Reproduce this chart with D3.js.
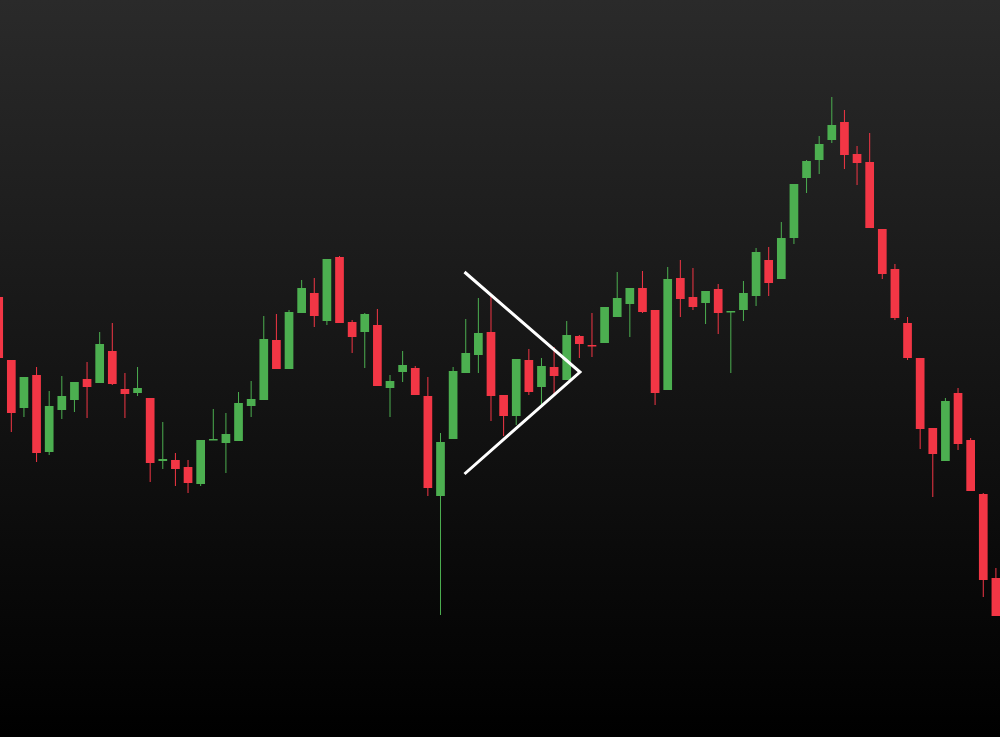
<!DOCTYPE html>
<html>
<head>
<meta charset="utf-8">
<script src="https://cdn.jsdelivr.net/npm/d3@7"></script>
<style>
  html, body { margin: 0; padding: 0; background: #000; }
  svg { display: block; }
</style>
</head>
<body>
<svg id="chart" width="1000" height="737"></svg>
<script>
// candle values (price units)
let opens = [44.0, 37.7, 32.9, 36.2, 28.5, 32.7, 33.7, 35.8, 35.4, 38.6,
  34.8, 34.4, 33.9, 27.6, 27.7, 27.0, 25.3, 29.7, 29.4, 29.6,
  33.1, 33.7, 39.7, 36.8, 42.4, 44.4, 41.6, 48.0, 41.5, 40.5,
  41.2, 34.9, 36.5, 36.9, 34.1, 24.1, 29.8, 36.4, 38.2, 40.5,
  34.2, 32.1, 37.7, 35.0, 37.0, 35.7, 40.1, 39.2, 39.4, 42.0,
  43.3, 44.9, 42.7, 34.7, 45.9, 44.0, 43.4, 44.8, 42.5, 42.7,
  44.1, 47.7, 45.8, 49.9, 55.9, 57.7, 59.7, 61.5, 58.3, 57.5,
  50.8, 46.8, 41.4, 37.9, 30.9, 27.6, 34.4, 29.7, 24.3, 15.9];
let highs = [44.1, 37.7, 36.0, 37.0, 34.6, 36.1, 35.5, 37.5, 40.5, 41.4,
  36.4, 37.0, 33.9, 31.5, 28.4, 27.7, 29.7, 32.8, 32.4, 34.5,
  35.6, 42.1, 42.3, 42.7, 45.7, 45.9, 47.8, 48.1, 41.7, 42.4,
  42.8, 36.2, 38.6, 37.1, 36.0, 30.4, 37.0, 41.8, 43.9, 44.3,
  34.2, 37.8, 38.8, 37.9, 39.0, 41.6, 40.2, 42.4, 43.0, 46.5,
  44.9, 46.6, 42.7, 47.0, 47.7, 46.9, 44.6, 45.3, 42.6, 45.6,
  48.9, 49.0, 51.5, 55.3, 57.7, 60.1, 64.0, 62.7, 59.1, 60.4,
  50.8, 47.3, 42.0, 37.9, 30.9, 33.9, 34.9, 29.9, 24.4, 16.9];
let lows = [37.7, 30.5, 32.0, 27.5, 28.2, 31.8, 32.5, 31.9, 35.4, 35.2,
  31.9, 34.1, 25.5, 26.8, 25.1, 24.4, 25.1, 29.7, 26.4, 29.6,
  32.0, 33.7, 36.8, 36.8, 42.4, 41.0, 41.2, 41.4, 38.4, 36.9,
  35.1, 32.0, 35.5, 34.2, 24.1, 12.2, 29.8, 36.4, 36.4, 31.6,
  30.1, 31.2, 34.2, 33.0, 34.1, 35.7, 37.9, 38.0, 39.4, 42.0,
  40.0, 42.4, 33.2, 34.7, 42.0, 42.7, 41.3, 40.3, 36.4, 41.6,
  43.1, 44.1, 45.8, 49.3, 54.4, 56.3, 59.4, 56.8, 55.2, 50.9,
  45.8, 41.7, 37.7, 28.8, 24.0, 27.6, 28.7, 24.6, 14.0, 12.1];
let closes = [37.9, 32.4, 36.0, 28.4, 33.1, 34.1, 35.5, 35.0, 39.3, 35.3,
  34.3, 34.9, 27.4, 27.8, 26.8, 25.4, 29.7, 29.8, 30.3, 33.4,
  33.8, 39.8, 36.8, 42.5, 44.9, 42.1, 47.8, 41.4, 40.0, 42.3,
  35.1, 35.6, 37.2, 34.2, 24.9, 29.5, 36.6, 38.4, 40.4, 34.1,
  32.1, 37.8, 34.5, 37.1, 36.1, 40.2, 39.3, 39.1, 43.0, 43.9,
  44.9, 42.5, 34.4, 45.8, 43.8, 43.0, 44.6, 42.4, 42.6, 44.4,
  48.5, 45.4, 49.9, 55.3, 57.6, 59.3, 61.2, 58.2, 57.4, 50.9,
  46.3, 41.9, 37.9, 30.8, 28.3, 33.6, 29.3, 24.6, 15.7, 12.1];

// triangle pattern drawn over the candles (candle index, price)
let patternIdx = [36.9, 46.05, 36.9];
let patternPrice = [46.5, 36.5, 26.3];

let width = 1000;
let height = 737;
let upColor = '#4caf50';
let downColor = '#f23645';

let svg = d3.select('#chart');

// background gradient
let defs = svg.append('defs');
let grad = defs.append('linearGradient')
  .attr('id', 'bg')
  .attr('x1', 0).attr('y1', 0)
  .attr('x2', 0).attr('y2', 1);
grad.append('stop').attr('offset', '0%').attr('stop-color', '#2a2a2a');
grad.append('stop').attr('offset', '100%').attr('stop-color', '#000000');

svg.append('rect')
  .attr('width', width)
  .attr('height', height)
  .attr('fill', 'url(#bg)');

let candles = opens.map((o, i) => ({
  i: i, open: o, high: highs[i], low: lows[i], close: closes[i]
}));

let x = d3.scaleLinear().domain([0, candles.length - 1]).range([-1.3, 995.9]);
let y = d3.scaleLinear().domain([0, 73.7]).range([height, 0]);
let bodyW = 8.7;

let g = svg.append('g');

// wicks
g.selectAll('line.wick')
  .data(candles)
  .enter()
  .append('line')
  .attr('class', 'wick')
  .attr('x1', (d) => x(d.i))
  .attr('x2', (d) => x(d.i))
  .attr('y1', (d) => y(d.high))
  .attr('y2', (d) => y(d.low))
  .attr('stroke', (d) => (d.close >= d.open ? upColor : downColor))
  .attr('stroke-width', 1);

// bodies
g.selectAll('rect.body')
  .data(candles)
  .enter()
  .append('rect')
  .attr('class', 'body')
  .attr('x', (d) => x(d.i) - bodyW / 2)
  .attr('width', bodyW)
  .attr('y', (d) => y(Math.max(d.open, d.close)))
  .attr('height', (d) => Math.max(1.5, Math.abs(y(d.open) - y(d.close))))
  .attr('fill', (d) => (d.close >= d.open ? upColor : downColor));

// pattern lines
let pts = patternIdx.map((v, i) => [x(v), y(patternPrice[i])]);
svg.append('path')
  .attr('d', d3.line()(pts))
  .attr('fill', 'none')
  .attr('stroke', '#ffffff')
  .attr('stroke-width', 3)
  .attr('stroke-linejoin', 'miter');
</script>
</body>
</html>
